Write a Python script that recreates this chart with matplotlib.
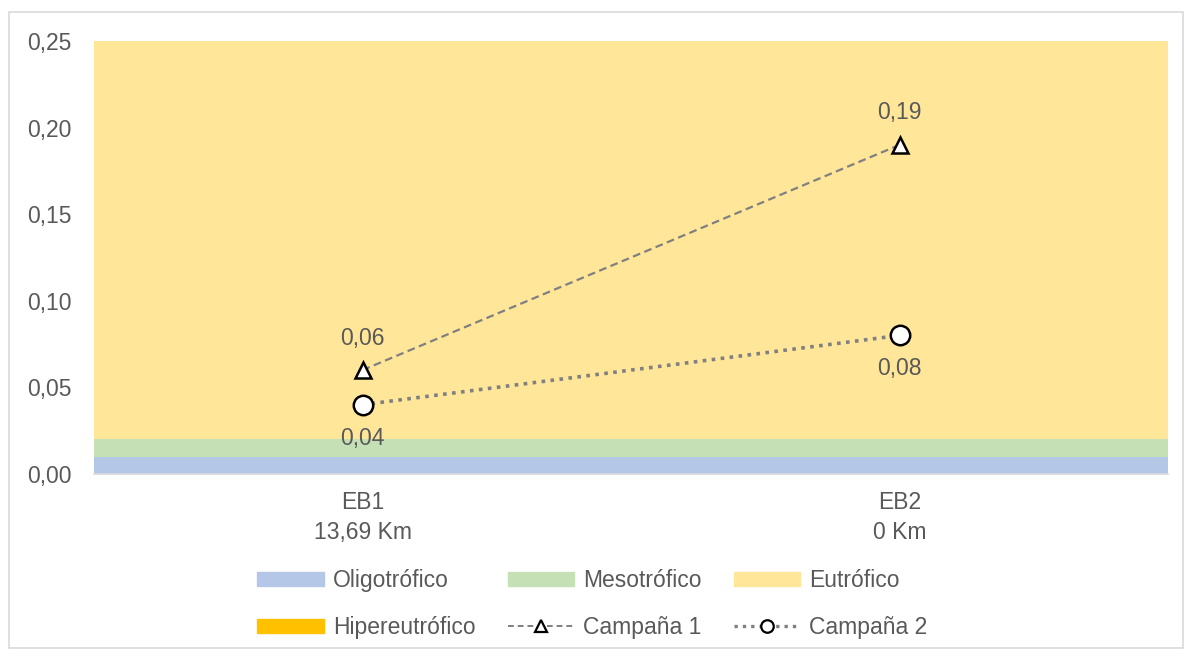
import matplotlib.pyplot as plt
from matplotlib.patches import Rectangle, Patch
from matplotlib.lines import Line2D
import numpy as np

plt.rcParams['font.family'] = ['Liberation Sans', 'DejaVu Sans']

# categories and series
stations = ['EB1\n13,69 Km', 'EB2\n0 Km']
campana_1 = [0.06, 0.19]
campana_2 = [0.04, 0.08]

# trophic bands (stacked)
band_names = ['Oligotrófico', 'Mesotrófico', 'Eutrófico', 'Hipereutrófico']
band_heights = [0.01, 0.01, 0.23, 0.05]
band_colors = ['#B4C7E7', '#C5E0B4', '#FFE699', '#FFC000']

grey_txt = '#595959'
fs = 16.5

fig = plt.figure(figsize=(11.85, 6.5), dpi=100)
ax = fig.add_axes([94 / 1185, 1 - 474 / 650, 1074 / 1185, 433 / 650])

x = np.arange(len(stations))

# bands drawn as full-width stacked bars
bottom = 0
for name, h, c in zip(band_names, band_heights, band_colors):
    ax.bar(0.5, h, width=2, bottom=bottom, color=c, linewidth=0, zorder=1)
    bottom += h

ax.plot(x, campana_1, color='#808080', linestyle=(0, (3.5, 2)), linewidth=1.6,
        marker='^', markersize=12, markerfacecolor='white',
        markeredgecolor='black', markeredgewidth=1.8, zorder=3)
ax.plot(x, campana_2, color='#808080', linestyle=(0, (1, 1.5)), linewidth=2.6,
        marker='o', markersize=14, markerfacecolor='white',
        markeredgecolor='black', markeredgewidth=1.8, zorder=3)

for xi, v in zip(x, campana_1):
    ax.annotate(f'{v:.2f}'.replace('.', ','), (xi, v), xytext=(0, 23),
                textcoords='offset points', ha='center', va='center',
                fontsize=fs, color=grey_txt)
for xi, v in zip(x, campana_2):
    ax.annotate(f'{v:.2f}'.replace('.', ','), (xi, v), xytext=(0, -24),
                textcoords='offset points', ha='center', va='center',
                fontsize=fs, color=grey_txt)

ax.set_xlim(-0.5, 1.5)
ax.set_ylim(0, 0.25)
ax.set_yticks(np.arange(0, 0.26, 0.05))
ax.set_yticklabels([f'{t:.2f}'.replace('.', ',') for t in np.arange(0, 0.26, 0.05)])
ax.set_xticks(x)
ax.set_xticklabels(stations, linespacing=1.4)
ax.tick_params(axis='y', length=0, pad=16, labelsize=fs, labelcolor=grey_txt)
ax.tick_params(axis='x', length=0, pad=12, labelsize=fs, labelcolor=grey_txt)

for s in ['top', 'right', 'left']:
    ax.spines[s].set_visible(False)
ax.spines['bottom'].set_color('#D9D9D9')
ax.spines['bottom'].set_linewidth(1.2)
ax.spines['bottom'].set_zorder(2)

patches = [Patch(color=c, label=n) for n, c in zip(band_names, band_colors)]
c1 = Line2D([], [], color='#808080', linestyle=(0, (3, 2)), linewidth=1.4,
            marker='^', markersize=9, markerfacecolor='white',
            markeredgecolor='black', markeredgewidth=1.6, label='Campaña 1')
c2 = Line2D([], [], color='#808080', linestyle=(0, (1, 1.5)), linewidth=2.4,
            marker='o', markersize=9, markerfacecolor='white',
            markeredgecolor='black', markeredgewidth=1.6, label='Campaña 2')
# column-major order so rows read: bands 1-3 / band 4, campaigns
handles = [patches[0], patches[3], patches[1], c1, patches[2], c2]

leg = fig.legend(handles=handles, loc='center', bbox_to_anchor=(0.5, 1 - 604 / 650),
                 ncol=3, frameon=False, fontsize=fs, handlelength=2.9,
                 handleheight=0.6, columnspacing=1.4, handletextpad=0.4,
                 labelspacing=1.05)
for t in leg.get_texts():
    t.set_color(grey_txt)

# outer chart frame
fig.patches.append(Rectangle((9 / 1185, 2 / 650), 1174 / 1185, 636 / 650,
                             transform=fig.transFigure, fill=False,
                             edgecolor='#D9D9D9', linewidth=1.2))

fig.savefig('out.png', dpi=100)
